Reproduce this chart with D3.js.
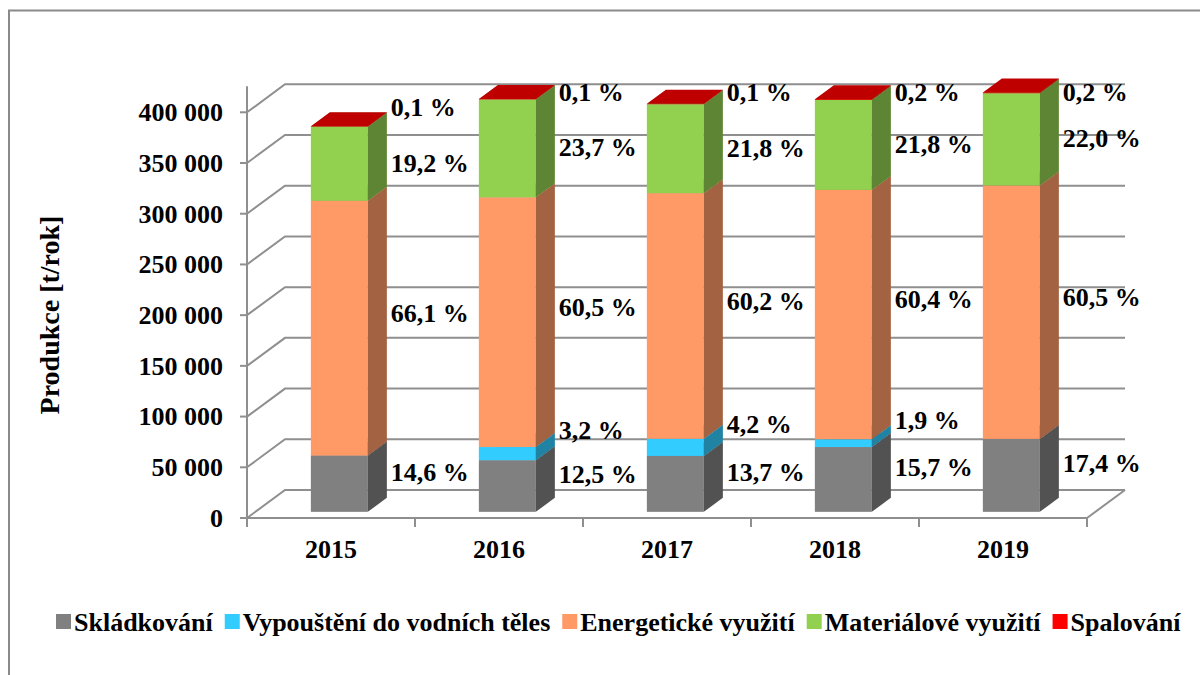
<!DOCTYPE html>
<html>
<head>
<meta charset="utf-8">
<script src="https://cdn.jsdelivr.net/npm/d3@7"></script>
<style>
  html, body { margin: 0; padding: 0; background: #fff; }
  svg { display: block; }
  text { font-family: "Liberation Serif", "Times New Roman", serif; font-weight: bold; fill: #000; }
</style>
</head>
<body>
<svg id="chart" width="1200" height="675"></svg>
<script>
// ---- data ----
const years = ["2015", "2016", "2017", "2018", "2019"];
const seriesNames = ["Skládkování", "Vypouštění do vodních těles", "Energetické využití", "Materiálové využití", "Spalování"];
const skladkovani = [55500, 50900, 55100, 63900, 71900];
const vypousteni  = [0, 13000, 16900, 7700, 0];
const energeticke = [251200, 246200, 242200, 245800, 249900];
const materialove = [73000, 96500, 87700, 88700, 90900];
const spalovani   = [400, 400, 400, 800, 800];
const skladkovaniPct = ["14,6 %", "12,5 %", "13,7 %", "15,7 %", "17,4 %"];
const vypousteniPct  = [null, "3,2 %", "4,2 %", "1,9 %", null];
const energetickePct = ["66,1 %", "60,5 %", "60,2 %", "60,4 %", "60,5 %"];
const materialovePct = ["19,2 %", "23,7 %", "21,8 %", "21,8 %", "22,0 %"];
const spalovaniPct   = ["0,1 %", "0,1 %", "0,1 %", "0,2 %", "0,2 %"];
const yTicks = [0, 50000, 100000, 150000, 200000, 250000, 300000, 350000, 400000];
const yTitle = "Produkce [t/rok]";

// ---- styles ----
const seriesColors = ["#808080", "#33CCFF", "#FF9966", "#92D050", "#FF0000"];
const labelNudge = [2, -9, -1, 13, -5];
const seriesValues = [skladkovani, vypousteni, energeticke, materialove, spalovani];
const seriesPct = [skladkovaniPct, vypousteniPct, energetickePct, materialovePct, spalovaniPct];

const svg = d3.select("#chart");
const FONT = 26;
const gridColor = "#8f8f8f";

// chart border (extends beyond the visible crop)
svg.append("rect").attr("x", 9).attr("y", 10.5).attr("width", 1300).attr("height", 800)
  .attr("fill", "none").attr("stroke", "#8a8a8a").attr("stroke-width", 2);

// 3D oblique geometry
const depthDX = 38, depthDY = -28;
const x = d3.scaleBand().domain(years).range([247, 1087]).paddingInner(0).paddingOuter(0);
const y = d3.scaleLinear().domain([0, 400000]).range([518, 112.3]);
const proj = (px, v, d) => [px + depthDX * d, y(v) + depthDY * d];
const barW = 57, barD0 = 0.22, barD1 = 0.72;

const shade = (c, k) => { const r = d3.rgb(c); return d3.rgb(r.r * k, r.g * k, r.b * k).formatHex(); };

const grid = svg.append("g");
// gridlines: left wall diagonal + back wall horizontal
yTicks.forEach(t => {
  const a = proj(x.range()[0], t, 0), b = proj(x.range()[0], t, 1), c = proj(x.range()[1], t, 1);
  grid.append("path").attr("d", d3.line()([a, b, c]))
    .attr("fill", "none").attr("stroke", gridColor).attr("stroke-width", 2);
});
// floor right edge
{
  const a = proj(x.range()[1], 0, 0), b = proj(x.range()[1], 0, 1);
  grid.append("line").attr("x1", a[0]).attr("y1", a[1]).attr("x2", b[0]).attr("y2", b[1])
    .attr("stroke", gridColor).attr("stroke-width", 2);
}
// y axis line + ticks
const yAxisTop = proj(x.range()[0], 400000, 1)[1] + 2;
grid.append("line").attr("x1", 247).attr("x2", 247).attr("y1", y(0)).attr("y2", yAxisTop)
  .attr("stroke", gridColor).attr("stroke-width", 2);
const fmt = d3.formatLocale({ decimal: ",", thousands: " ", grouping: [3], currency: ["", ""] }).format(",d");
const yAxisG = svg.append("g");
yTicks.forEach(t => {
  yAxisG.append("line").attr("x1", 240).attr("x2", 247).attr("y1", y(t)).attr("y2", y(t))
    .attr("stroke", gridColor).attr("stroke-width", 2);
  yAxisG.append("text").attr("x", 223).attr("y", y(t)).attr("dy", "0.34em")
    .attr("text-anchor", "end").attr("font-size", FONT).text(fmt(t));
});
// x axis line + ticks
grid.append("line").attr("x1", 247).attr("x2", 1087).attr("y1", y(0)).attr("y2", y(0))
  .attr("stroke", gridColor).attr("stroke-width", 2);
const bounds = years.map(yr => x(yr)).concat([x.range()[1]]);
bounds.forEach(bx => {
  grid.append("line").attr("x1", bx).attr("x2", bx).attr("y1", y(0)).attr("y2", y(0) + 9)
    .attr("stroke", gridColor).attr("stroke-width", 2);
});
years.forEach(yr => {
  svg.append("text").attr("x", x(yr) + x.bandwidth() / 2).attr("y", 558)
    .attr("text-anchor", "middle").attr("font-size", FONT).text(yr);
});

// y axis title
svg.append("text").attr("transform", "translate(59,315) rotate(-90)")
  .attr("text-anchor", "middle").attr("font-size", 28).text(yTitle);

// bars
const bars = svg.append("g");
const labels = svg.append("g");
years.forEach((yr, i) => {
  const fx0 = x(yr) + x.bandwidth() / 2 - barW / 2;
  const fx1 = fx0 + barW;
  let cum = 0;
  seriesValues.forEach((vals, s) => {
    const v0 = cum, v1 = cum + vals[i];
    cum = v1;
    const col = seriesColors[s];
    if (vals[i] > 0) {
      const p = (px, v, d) => proj(px, v, d);
      // front
      const fl0 = p(fx0, v0, barD0), fr1 = p(fx1, v1, barD0);
      bars.append("rect").attr("x", fl0[0]).attr("y", fr1[1])
        .attr("width", barW).attr("height", Math.max(0, fl0[1] - fr1[1]))
        .attr("fill", col);
      // side
      bars.append("path").attr("d", d3.line()([p(fx1, v0, barD0), p(fx1, v1, barD0), p(fx1, v1, barD1), p(fx1, v0, barD1)]) + "Z")
        .attr("fill", shade(col, 0.64));
      // top
      bars.append("path").attr("d", d3.line()([p(fx0, v1, barD0), p(fx1, v1, barD0), p(fx1, v1, barD1), p(fx0, v1, barD1)]) + "Z")
        .attr("fill", shade(col, 0.75));
    }
    const txt = seriesPct[s][i];
    if (txt) {
      const sideRight = proj(fx1, 0, barD1)[0];
      let ly = (proj(fx1, v0, barD0)[1] + proj(fx1, v1, barD0)[1]) / 2 - 14 + labelNudge[s];
      if (s === 4) ly = Math.max(ly, 92);
      labels.append("text").attr("x", sideRight + 4).attr("y", ly).attr("dy", "0.34em")
        .attr("font-size", FONT).text(txt);
    }
  });
});

// legend
const legend = svg.append("g");
let lx = 56;
const ly = 622;
seriesNames.forEach((name, s) => {
  legend.append("rect").attr("x", lx).attr("y", ly - 8).attr("width", 15).attr("height", 15)
    .attr("fill", seriesColors[s]);
  const t = legend.append("text").attr("x", lx + 18).attr("y", ly).attr("dy", "0.34em")
    .attr("font-size", FONT).text(name);
  lx += 18 + t.node().getComputedTextLength() + 12;
});
</script>
</body>
</html>
